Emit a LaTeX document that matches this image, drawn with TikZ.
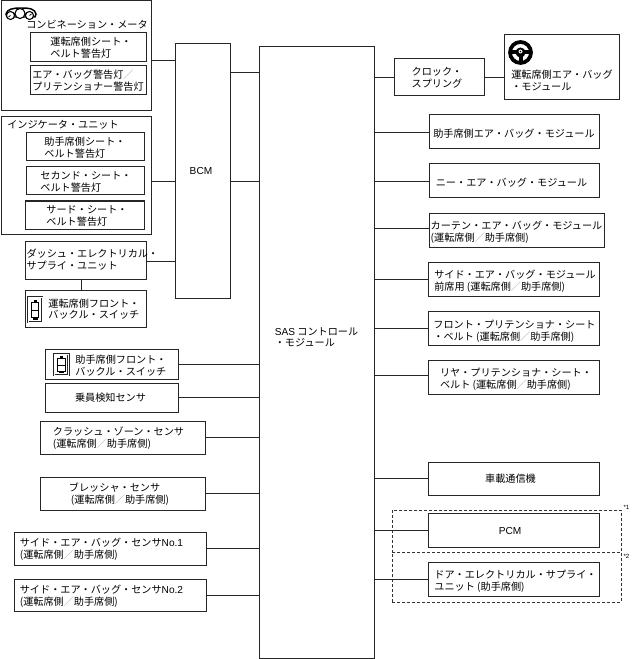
\documentclass[tikz,border=0pt]{standalone}
\usepackage{fontspec}
\setmainfont{Noto Sans CJK JP}
\newfontfamily\helv{Liberation Sans}
\usetikzlibrary{positioning, fit}
\newdimen\px
\px=0.75pt
% Box text: shift right, shift up (pixels), then the lines
\newcommand{\boxtext}[3]{\raisebox{\dimexpr#2\px-4.5\px\relax}[0pt][0pt]{\begin{tabular}{@{\hspace{#1\px}}l@{\hspace{-#1\px}}}#3\end{tabular}}}
\newcommand{\sepmark}{{\color{black!35}／}}
\newcommand{\bothseats}{(運転席側\sepmark 助手席側)}
\begin{document}
\begin{tikzpicture}[x=0.75pt, y=-0.75pt,
		box/.style={draw=black!85, line width=0.75pt, inner sep=0pt, outer sep=0pt,
			font=\fontsize{7.6}{8.6}\selectfont},
		group/.style={draw=black!80, line width=0.75pt, dash pattern=on 2.25pt off 1.5pt, inner sep=0pt, outer sep=0pt},
		title/.style={inner sep=0pt, anchor=west, font=\fontsize{7.6}{8.6}\selectfont},
		note/.style={inner sep=0pt, font=\helv\fontsize{4.6}{5}\selectfont},
		wire/.style={line width=0.65pt, black!85}]
	\useasboundingbox (0,0) rectangle (632,659);
	
	% Left column, warning lamps
	\node[box, fit={(1,1)(151,111)}] (meter) {};
	\node[title] (meterTitle) at (26,25) {コンビネーション・メータ};
	\node[box, fit={(30,33)(146,62)}] (drvBelt) {\boxtext{3}{0}{運転席側シート・\\ベルト警告灯}};
	\node[box, fit={(30,66)(146,95)}] (airLamp) {\boxtext{0}{0}{エア・バッグ警告灯\sepmark\\プリテンショナー警告灯}};
	
	\node[box, fit={(1,117)(151,234)}] (indicator) {};
	\node[title] (indicatorTitle) at (7,125) {インジケータ・ユニット};
	\node[box, fit={(26,133)(144,161)}] (psgBelt) {\boxtext{0}{0}{助手席側シート・\\ベルト警告灯}};
	\node[box, fit={(26,167)(144,195)}] (secBelt) {\boxtext{1}{0}{セカンド・シート・\\ベルト警告灯}};
	\node[box, fit={(25,201)(144,229)}] (thdBelt) {\boxtext{2.5}{0}{サード・シート・\\ベルト警告灯}};
	
	% Left column, units and sensors
	\node[box, fit={(25,241)(146,279)}] (dash) {\boxtext{1.5}{1}{ダッシュ・エレクトリカル・\\サプライ・ユニット}};
	\node[box, fit={(25,290)(146,327)}] (drvSwitch) {\boxtext{8.5}{0}{運転席側フロント・\\バックル・スイッチ}};
	\node[box, fit={(45,349)(178,379)}] (psgSwitch) {\boxtext{9.5}{-1}{助手席側フロント・\\バックル・スイッチ}};
	\node[box, fit={(45,383)(178,412)}] (occupant) {\boxtext{-1}{0}{乗員検知センサ}};
	\node[box, fit={(40,421)(205,454)}] (crash) {\boxtext{-4}{0}{クラッシュ・ゾーン・センサ\\\bothseats}};
	\node[box, fit={(40,477)(205,510)}] (pressure) {\boxtext{-2.5}{0}{\hspace*{-2\px}ブレッシャ・センサ\\\bothseats}};
	\node[box, fit={(14,532)(206,565)}] (sideOne) {\boxtext{-8.5}{0}{サイド・エア・バッグ・センサ{\helv No.1}\\\bothseats}};
	\node[box, fit={(14,579)(206,611)}] (sideTwo) {\boxtext{-8.5}{0}{サイド・エア・バッグ・センサ{\helv No.2}\\\bothseats}};
	
	% Control units
	\node[box, fit={(175,44)(230,298)}] (bcm) {\boxtext{-1.5}{1}{\helv BCM}};
	\node[box, fit={(259,47)(374,658)}] (sas) {\boxtext{0}{15.5}{{\helv SAS} コントロール\\・モジュール}};
	
	% Right column
	\node[box, fit={(394,59)(484,96)}] (clock) {\boxtext{-2}{0}{クロック・\\スプリング}};
	\node[box, fit={(504,35)(619,100)}] (drvModule) {\boxtext{0.5}{-12.5}{運転席側エア・バッグ\\・モジュール}};
	\node[box, fit={(429,115)(599,149)}] (psgModule) {\boxtext{0}{-1}{助手席側エア・バッグ・モジュール}};
	\node[box, fit={(429,164)(599,198)}] (knee) {\boxtext{-2.5}{-1}{ニー・エア・バッグ・モジュール}};
	\node[box, fit={(429,213)(604,247)}] (curtain) {\boxtext{0}{-1.5}{カーテン・エア・バッグ・モジュール\\\bothseats}};
	\node[box, fit={(428,262)(599,296)}] (sideMod) {\boxtext{1.5}{-1.5}{サイド・エア・バッグ・モジュール\\前席用 \bothseats}};
	\node[box, fit={(428,311)(599,345)}] (frontPre) {\boxtext{1}{-2.5}{フロント・プリテンショナ・シート\\・ベルト \bothseats}};
	\node[box, fit={(428,360)(599,394)}] (rearPre) {\boxtext{2.5}{-1.5}{リヤ・プリテンショナ・シート・\\ベルト \bothseats}};
	\node[box, fit={(428,462)(599,495)}] (telem) {\boxtext{-3}{0}{車載通信機}};
	\node[box, fit={(428,513)(599,547)}] (pcm) {\boxtext{-3.5}{0}{\helv PCM}};
	\node[box, fit={(428,562)(599,596)}] (doorUnit) {\boxtext{2}{-1}{ドア・エレクトリカル・サプライ・\\ユニット (助手席側)}};
	
	% Dashed groups
	\node[group, fit={(392,510)(621,552)}] (groupOne) {};
	\node[group, fit={(392,552)(621,602)}] (groupTwo) {};
	\node[note] (noteOne) at (626.5,507) {*1};
	\node[note] (noteTwo) at (626.5,556) {*2};
	
	% Connectors into the BCM
	\draw[wire] (meter.east |- 0,60) -- (bcm.west |- 0,60);
	\draw[wire] (indicator.east |- 0,181) -- (bcm.west |- 0,181);
	\draw[wire] (dash.east |- 0,261) -- (bcm.west |- 0,261);
	\draw[wire] (dash.south -| 81,0) -- (drvSwitch.north -| 81,0);
	\draw[wire] (bcm.east |- 0,72) -- (sas.west |- 0,72);
	\draw[wire] (bcm.east |- 0,181) -- (sas.west |- 0,181);
	
	% Connectors into the SAS unit
	\foreach \unit in {psgSwitch, occupant, crash, pressure, sideOne, sideTwo}
		\draw[wire] (\unit.east) -- (\unit.east -| sas.west);
	\foreach \unit in {clock, psgModule, knee, sideMod, frontPre, telem, pcm, doorUnit}
		\draw[wire] (sas.east |- \unit.west) -- (\unit.west);
	\draw[wire] (sas.east |- 0,228) -- (curtain.west |- 0,228);
	\draw[wire] (sas.east |- 0,375) -- (rearPre.west |- 0,375);
	\draw[wire] (clock.east) -- (clock.east -| drvModule.west);
	
	% Combination meter icon
	\draw[line width=1.1pt] (6,14) .. controls (7,9) and (13,8) .. (21,8) .. controls (30,8) and (35,9) .. (36,14) -- (35,17) -- (7,17) -- cycle;
	\draw[line width=0.8pt, fill=white] (10.5,15.5) circle (4) (20,13.5) circle (5) (29.5,15.5) circle (4);
	\draw[line width=0.6pt] (10.5,15.5) -- (8.5,17) (29.5,15.5) -- (31.5,14);
	
	% Buckle switch icons
	\foreach \ix/\iy/\iw/\ih in {28/297/14/25, 54/354/14.5/21}{
		\draw[line width=0.7pt, black!85, double=white, double distance=0.5pt] (\ix,\iy) rectangle ({\ix+\iw},{\iy+\ih});
		\draw[line width=0.6pt] ({\ix+3.5},{\iy+0.22*\ih}) rectangle ({\ix+\iw-3.5},{\iy+0.82*\ih});
		\draw[line width=0.6pt] ({\ix+3.5},{\iy+0.52*\ih}) -- ({\ix+\iw-3.5},{\iy+0.52*\ih});
		\fill ({\ix+5.5},{\iy+0.1*\ih}) rectangle ({\ix+\iw-5.5},{\iy+0.22*\ih});
		\fill ({\ix+4.5},{\iy+0.82*\ih}) rectangle ({\ix+\iw-4.5},{\iy+0.92*\ih});
	}
	
	% Steering wheel icon
	\draw[line width=2.8pt] (520.5,52.5) circle (10.5);
	\fill (520.5,52.5) circle (5);
	\fill (510,50.5) rectangle (531,54);
	\fill (518.5,52.5) rectangle (522.5,62);
	\fill[white] (520.5,51.5) circle (2);
	\fill (520.5,51.5) circle (0.8);
\end{tikzpicture}
\end{document}
